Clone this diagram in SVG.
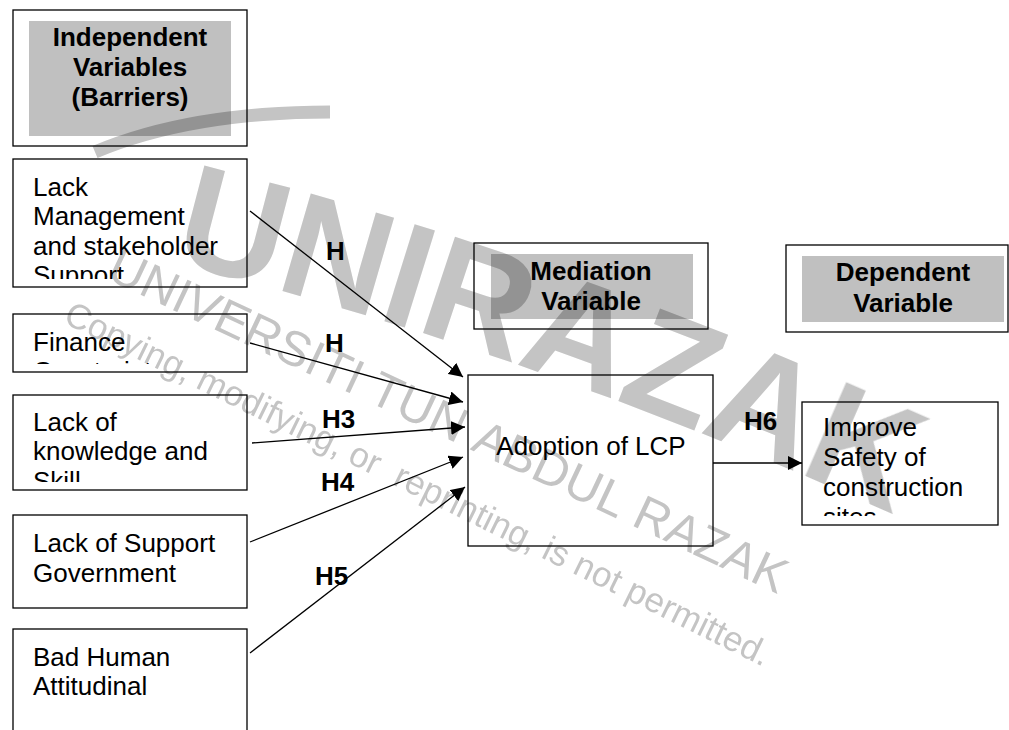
<svg xmlns="http://www.w3.org/2000/svg" width="1009" height="730" viewBox="0 0 1009 730">
<style>
.box{fill:none;stroke:#000;stroke-width:1.3}
.hdr{fill:#c0c0c0}
.t{font-family:"Liberation Sans",Arial,sans-serif;font-size:26px;fill:#000}
.b{font-family:"Liberation Sans",Arial,sans-serif;font-size:26px;font-weight:bold;fill:#000}
.c{text-anchor:middle}
.ln{stroke:#000;stroke-width:1.3;fill:none}
.wm{font-family:"Liberation Sans",Arial,sans-serif;fill:#c4c4c4}
.big{font-size:147.5px;font-weight:bold;text-anchor:middle}
.w2{font-size:49px}
.w3{font-size:35px}
</style>
<defs>
<marker id="ah" markerWidth="15" markerHeight="14" refX="14" refY="7" orient="auto" markerUnits="userSpaceOnUse"><path d="M0,0 L14,7 L0,14 z" fill="#000"/></marker>
<clipPath id="c1"><rect x="13" y="159" width="234" height="120"/></clipPath>
<clipPath id="c2"><rect x="13" y="314" width="234" height="50"/></clipPath>
<clipPath id="c3"><rect x="13" y="395" width="234" height="87"/></clipPath>
<clipPath id="c7"><rect x="802" y="402" width="196" height="114"/></clipPath>
</defs>
<rect width="1009" height="730" fill="#fff"/>

<g id="hdr-independent">
<rect class="box" x="13" y="10" width="234" height="136"/>
<rect class="hdr" x="29" y="21" width="202" height="115"/>
<text class="b c" x="130" y="46">Independent</text>
<text class="b c" x="130" y="76">Variables</text>
<text class="b c" x="130" y="106">(Barriers)</text>
</g>

<g id="n-management">
<rect class="box" x="13" y="159" width="234" height="128"/>
<g clip-path="url(#c1)">
<text class="t" x="33" y="195.5">Lack</text>
<text class="t" x="33" y="225">Management</text>
<text class="t" x="33" y="254.5">and stakeholder</text>
<text class="t" x="33" y="284">Support</text>
</g>
</g>

<g id="n-finance">
<rect class="box" x="13" y="314" width="234" height="58"/>
<g clip-path="url(#c2)">
<text class="t" x="33" y="350.5">Finance</text>
<text class="t" x="33" y="380">Constraint</text>
</g>
</g>

<g id="n-knowledge">
<rect class="box" x="13" y="395" width="234" height="95"/>
<g clip-path="url(#c3)">
<text class="t" x="33" y="431">Lack of</text>
<text class="t" x="33" y="460">knowledge and</text>
<text class="t" x="33" y="489.5">Skill</text>
</g>
</g>

<g id="n-government">
<rect class="box" x="13" y="515" width="234" height="93"/>
<text class="t" x="33" y="552">Lack of Support</text>
<text class="t" x="33" y="581.5">Government</text>
</g>

<g id="n-attitudinal">
<rect class="box" x="13" y="629" width="234" height="120"/>
<text class="t" x="33" y="665.5">Bad Human</text>
<text class="t" x="33" y="695">Attitudinal</text>
</g>

<g id="hdr-mediation">
<rect class="box" x="474" y="243" width="234" height="86"/>
<rect class="hdr" x="491" y="254" width="202" height="65"/>
<text class="b c" x="591" y="279.5">Mediation</text>
<text class="b c" x="591" y="309.5">Variable</text>
</g>

<g id="n-adoption">
<rect class="box" x="468" y="375" width="245" height="171"/>
<text class="t c" x="591" y="455">Adoption of LCP</text>
</g>

<g id="hdr-dependent">
<rect class="box" x="786" y="245" width="222" height="87"/>
<rect class="hdr" x="802" y="256" width="202" height="66"/>
<text class="b c" x="903" y="281">Dependent</text>
<text class="b c" x="903" y="311.5">Variable</text>
</g>

<g id="n-safety">
<rect class="box" x="802" y="402" width="196" height="123"/>
<g clip-path="url(#c7)">
<text class="t" x="823" y="436">Improve</text>
<text class="t" x="823" y="466">Safety of</text>
<text class="t" x="823" y="496">construction</text>
<text class="t" x="823" y="526">sites</text>
</g>
</g>

<g id="connectors">
<line class="ln" x1="250" y1="211" x2="463" y2="377" marker-end="url(#ah)"/>
<line class="ln" x1="250" y1="343" x2="463" y2="402" marker-end="url(#ah)"/>
<line class="ln" x1="252" y1="443" x2="465" y2="427" marker-end="url(#ah)"/>
<line class="ln" x1="250" y1="542" x2="463" y2="457" marker-end="url(#ah)"/>
<line class="ln" x1="250" y1="653" x2="465" y2="487" marker-end="url(#ah)"/>
<line class="ln" x1="713" y1="463" x2="802" y2="463" stroke-width="2.2" marker-end="url(#ah)"/>
<text class="b" x="326" y="260">H</text>
<text class="b" x="325" y="352">H</text>
<text class="b" x="322" y="428">H3</text>
<text class="b" x="321" y="491">H4</text>
<text class="b" x="315" y="585">H5</text>
<text class="b" x="744" y="430">H6</text>
</g>

<g id="watermark" style="mix-blend-mode:multiply">
<path d="M95,152 Q190,112 330,112" fill="none" stroke="#c4c4c4" stroke-width="13"/>
<g class="wm big">
<text transform="translate(221.7,275) rotate(14.6)">U</text>
<text transform="translate(324.1,303.2) rotate(16.2)">N</text>
<text transform="translate(394.6,324.4) rotate(17.3)">I</text>
<text transform="translate(464.4,346.8) rotate(18.3)">R</text>
<text transform="translate(564.7,381.6) rotate(19.8)">A</text>
<text transform="translate(656.4,415.7) rotate(21.1)">Z</text>
<text transform="translate(747.5,451.9) rotate(22.3)">A</text>
<text transform="translate(845.1,493.3) rotate(23.6)">K</text>
</g>
<g class="wm w2">
<text transform="translate(105,278) rotate(25.2)">UNIVERSITI</text>
<text transform="translate(366.2,400.7) rotate(25.2)">TUN</text>
<text transform="translate(469.6,449.2) rotate(25.2)">ABDUL</text>
<text transform="translate(629.9,524.5) rotate(25.2)">RAZAK</text>
</g>
<g class="wm w3">
<text transform="translate(62,322) rotate(26.2)">Copying,</text>
<text transform="translate(194.6,387.2) rotate(26.2)">modifying,</text>
<text transform="translate(346.3,461.8) rotate(26.2)">or</text>
<text transform="translate(391.6,484.1) rotate(26.2)">reprinting,</text>
<text transform="translate(539.9,557) rotate(26.2)">is</text>
<text transform="translate(571.3,572.4) rotate(26.2)">not</text>
<text transform="translate(623.7,598.2) rotate(26.2)">permitted.</text>
</g>
</g>
</svg>
